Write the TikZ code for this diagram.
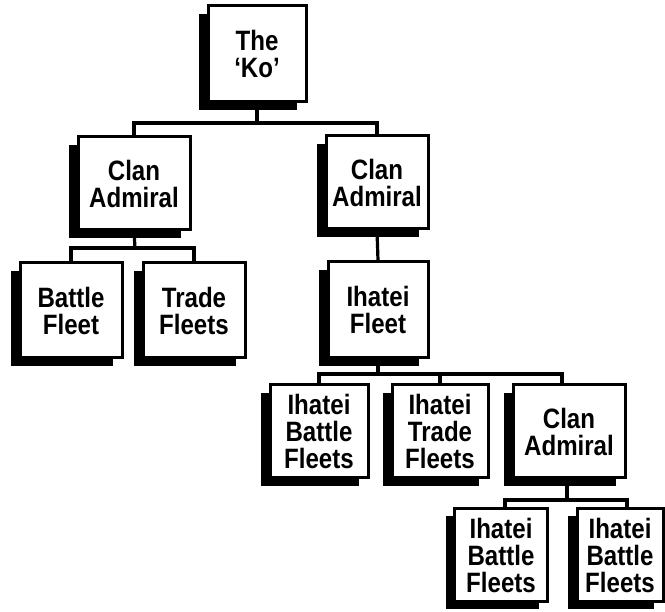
\documentclass[tikz,border=0pt]{standalone}
\usepackage{fontspec}
\setmainfont{Liberation Sans}[FakeStretch=0.86]
\usetikzlibrary{shadows}
\begin{document}
\begin{tikzpicture}[x=1pt,y=-1pt,
  orgbox/.style={draw=black, line width=3pt, fill=white, inner sep=0pt,
    minimum height=93pt, align=center,
    font=\fontsize{28}{27}\selectfont\bfseries,
    general shadow={fill=black, shadow xshift=-9pt, shadow yshift=-8pt}},
  conn/.style={line width=3.2pt, line cap=rect}]
\useasboundingbox (0,0) rectangle (665,612);
\fill[white] (0,0) rectangle (665,612);
\node[orgbox, minimum width=98pt, minimum height=96pt] (ko) at (257,54) {The\\`Ko'};
\node[orgbox, minimum width=112pt] (ca1) at (134,183.5) {Clan\\Admiral};
\node[orgbox, minimum width=102pt] (ca2) at (377,182.5) {Clan\\Admiral};
\node[orgbox, minimum width=102pt, minimum height=95pt] (bf) at (71,310.5) {Battle\\Fleet};
\node[orgbox, minimum width=102pt, minimum height=95pt] (tf) at (194,310.5) {Trade\\Fleets};
\node[orgbox, minimum width=100pt, minimum height=96pt] (if) at (378,310) {Ihatei\\Fleet};
\node[orgbox, minimum width=98pt] (ibf1) at (319,431.5) {Ihatei\\Battle\\Fleets};
\node[orgbox, minimum width=96pt] (itf) at (440,431.5) {Ihatei\\Trade\\Fleets};
\node[orgbox, minimum width=112pt] (ca3) at (569,431.5) {Clan\\Admiral};
\node[orgbox, minimum width=93pt] (ibf2) at (501,555) {Ihatei\\Battle\\Fleets};
\node[orgbox, minimum width=86pt] (ibf3) at (620,555) {Ihatei\\Battle\\Fleets};
% junctions
\coordinate (j0) at (257,123);
\coordinate (j1) at (135,248);
\coordinate (j2) at (378,374);
\coordinate (j3) at (567,500);
% connectors
\draw[conn] (ko.south) -- (j0);
\draw[conn] (ca1.north) |- (j0) -| (ca2.north);
\draw[conn] (ca1.south) -- (j1);
\draw[conn] (bf.north) |- (j1) -| (tf.north);
\draw[conn] (ca2.south) -- (if.north);
\draw[conn] (if.south) -- (j2);
\draw[conn] (ibf1.north) |- (j2) -| ([xshift=-7pt]ca3.north);
\draw[conn] (itf.north) -- (itf.north |- j2);
\draw[conn] ([xshift=-2pt]ca3.south) -- (j3);
\draw[conn] ([xshift=4pt]ibf2.north) |- (j3) -| ([xshift=7pt]ibf3.north);
\end{tikzpicture}
\end{document}
